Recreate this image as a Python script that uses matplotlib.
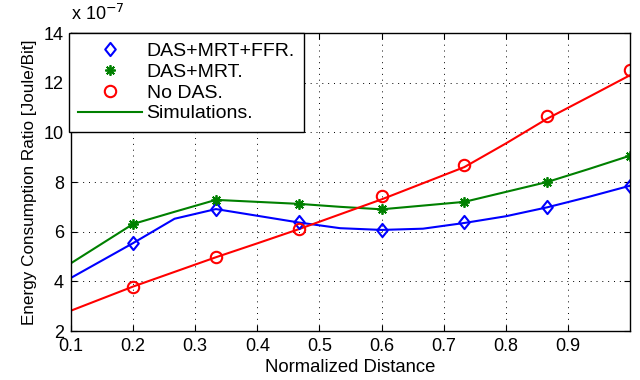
import matplotlib
matplotlib.use("Agg")
import matplotlib.pyplot as plt
from matplotlib.path import Path

plt.rcParams['font.family'] = ['Liberation Sans', 'DejaVu Sans']

# Marker (analytical) points, values in units of 1e-7 Joule/Bit
mark_x = [0.2, 0.3333, 0.4667, 0.6, 0.7333, 0.8667, 1.0]
ffr_mark = [5.54, 6.91, 6.37, 6.05, 6.37, 7.01, 7.85]
mrt_mark = [6.31, 7.28, 7.12, 6.90, 7.20, 8.00, 9.06]
nodas_mark = [3.79, 4.97, 6.10, 7.42, 8.68, 10.67, 12.52]

# Simulation curves
sim_x = [0.1, 0.2, 0.2667, 0.3333, 0.4, 0.4667, 0.5333, 0.6, 0.6667, 0.7333, 0.8, 0.8667, 0.9333, 1.0]
ffr_sim = [4.14, 5.54, 6.52, 6.91, 6.64, 6.37, 6.14, 6.07, 6.12, 6.35, 6.62, 6.98, 7.40, 7.85]
mrt_sim = [4.73, 6.31, 6.80, 7.28, 7.20, 7.12, 7.00, 6.90, 7.05, 7.20, 7.60, 8.00, 8.52, 9.06]
nodas_sim = [2.82, 3.79, 4.38, 4.97, 5.53, 6.10, 6.70, 7.30, 7.95, 8.60, 9.55, 10.55, 11.42, 12.30]

x_ticks = [0.1, 0.2, 0.3, 0.4, 0.5, 0.6, 0.7, 0.8, 0.9]
y_ticks = [2, 4, 6, 8, 10, 12, 14]

W, H = 640, 380
fig = plt.figure(figsize=(6.4, 3.8), dpi=100)
ax = fig.add_axes([71 / W, 1 - 331 / H, 559 / W, 298 / H])

tick_fs = 13
lab_fs = 13.3
leg_fs = 14

diamond = Path([(0, 1), (0.8, 0), (0, -1), (-0.8, 0), (0, 1)],
               [Path.MOVETO, Path.LINETO, Path.LINETO, Path.LINETO, Path.CLOSEPOLY])

ax.plot(sim_x, ffr_sim, color='#0000ff', lw=1.5)
ax.plot(sim_x, mrt_sim, color='#008000', lw=1.5)
ax.plot(sim_x, nodas_sim, color='#ff0000', lw=1.5)

h1, = ax.plot(mark_x, ffr_mark, linestyle='none', marker=diamond, ms=9.5, mfc='none',
              mec='#0000ff', mew=1.5, label='DAS+MRT+FFR.')
h2, = ax.plot(mark_x, mrt_mark, linestyle='none', marker=(8, 2, 0), ms=7.5,
              mec='#008000', color='#008000', mew=1.3, label='DAS+MRT.')
h3, = ax.plot(mark_x, nodas_mark, linestyle='none', marker='o', ms=8.2, mfc='none',
              mec='#ff0000', mew=1.5, label='No DAS.')
h4, = ax.plot([], [], color='#008000', lw=1.5, label='Simulations.')

ax.set_xlim(0.1, 1.0)
ax.set_ylim(2, 14)
ax.set_xticks(x_ticks)
ax.set_xticklabels([f"{v:g}" for v in x_ticks], fontsize=tick_fs)
ax.set_yticks(y_ticks)
ax.set_yticklabels([str(v) for v in y_ticks], fontsize=tick_fs)
ax.tick_params(direction='in', length=4, width=0.8, top=True, right=True, pad=5)
ax.grid(True, linestyle=(0, (1, 5)), color='black', lw=0.7)
for s in ax.spines.values():
    s.set_linewidth(1.0)

ax.set_xlabel('Normalized Distance', fontsize=lab_fs, labelpad=3)
ax.set_ylabel('Energy Consumption Ratio [Joule/Bit]', fontsize=12.3, labelpad=5)
ax.text(0.0, 1.03, r'x 10$^{-7}$', transform=ax.transAxes, fontsize=tick_fs,
        ha='left', va='bottom')

leg = ax.legend(handles=[h1, h2, h3, h4], loc='upper left', fontsize=leg_fs,
                frameon=True, fancybox=False, edgecolor='black', framealpha=1,
                borderaxespad=0.0, handlelength=3.3, labelspacing=0.17,
                borderpad=0.47, handletextpad=0.22,
                bbox_to_anchor=(69 / W, 1 - 33 / H),
                bbox_transform=fig.transFigure)
leg.get_frame().set_linewidth(1.0)

fig.savefig('out.png', dpi=100)
